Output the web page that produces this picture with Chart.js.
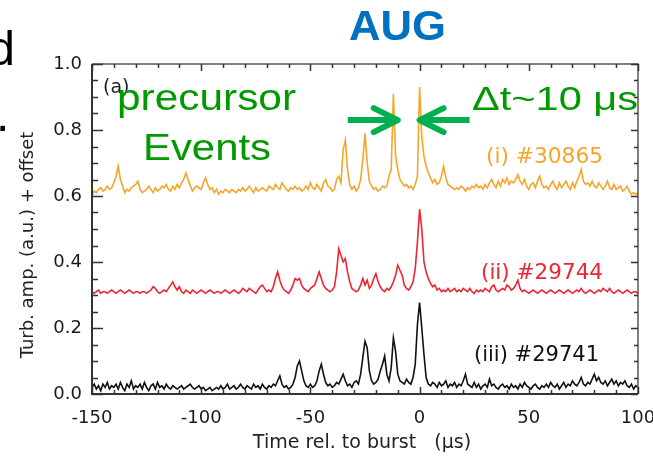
<!DOCTYPE html>
<html>
<head>
<meta charset="utf-8">
<title>AUG precursor events</title>
<script src="https://cdn.jsdelivr.net/npm/chart.js@4.4.0/dist/chart.umd.min.js"></script>
<style>
  html, body { margin: 0; padding: 0; background: #fff; }
  #wrap { width: 653px; height: 457px; position: relative; }
</style>
</head>
<body>
<div id="wrap"><canvas id="burstChart"></canvas></div>
<script>
// Time axis, 1 µs sampling relative to the burst
const times = [];
for (let t = -150; t <= 100; t++) times.push(t);

// (i) #30865 turbulence amplitude (offset by +0.6)
const shot30865 = [
  0.600,0.615,0.610,0.620,0.625,0.615,0.620,0.630,0.620,0.625, // -150
  0.640,0.660,0.690,0.650,0.630,0.610,0.620,0.615,0.625,0.630, // -140
  0.635,0.645,0.620,0.610,0.615,0.620,0.630,0.620,0.610,0.625, // -130
  0.615,0.620,0.630,0.625,0.635,0.620,0.615,0.630,0.620,0.635, // -120
  0.625,0.640,0.650,0.670,0.650,0.630,0.615,0.625,0.630,0.625, // -110
  0.620,0.640,0.655,0.635,0.620,0.625,0.610,0.620,0.605,0.615, // -100
  0.610,0.620,0.615,0.610,0.620,0.615,0.610,0.620,0.615,0.625, // -90
  0.615,0.620,0.630,0.620,0.610,0.625,0.615,0.620,0.625,0.620, // -80
  0.615,0.630,0.625,0.620,0.635,0.625,0.620,0.640,0.630,0.620, // -70
  0.615,0.625,0.620,0.630,0.620,0.625,0.615,0.620,0.630,0.620, // -60
  0.640,0.625,0.620,0.635,0.625,0.615,0.640,0.650,0.630,0.625, // -50
  0.615,0.620,0.650,0.660,0.640,0.740,0.770,0.680,0.635,0.620, // -40
  0.630,0.615,0.625,0.650,0.710,0.790,0.700,0.645,0.630,0.620, // -30
  0.625,0.615,0.620,0.630,0.625,0.630,0.660,0.680,0.910,0.720, // -20
  0.680,0.650,0.640,0.630,0.635,0.625,0.630,0.620,0.635,0.660, // -10
  0.930,0.780,0.720,0.690,0.670,0.655,0.640,0.650,0.635,0.640, // 0
  0.660,0.690,0.655,0.635,0.630,0.625,0.620,0.625,0.620,0.630, // 10
  0.625,0.615,0.625,0.620,0.630,0.625,0.635,0.625,0.630,0.620, // 20
  0.635,0.625,0.640,0.650,0.635,0.625,0.645,0.630,0.650,0.640, // 30
  0.655,0.635,0.645,0.640,0.650,0.665,0.645,0.635,0.650,0.630, // 40
  0.620,0.635,0.640,0.625,0.645,0.660,0.635,0.625,0.630,0.620, // 50
  0.635,0.645,0.630,0.620,0.640,0.625,0.635,0.645,0.630,0.620, // 60
  0.640,0.625,0.645,0.660,0.680,0.645,0.635,0.640,0.630,0.645, // 70
  0.630,0.625,0.640,0.630,0.620,0.630,0.645,0.625,0.620,0.635, // 80
  0.620,0.625,0.630,0.615,0.620,0.630,0.615,0.605,0.610,0.605, // 90
  0.610                                                        // 100
];

// (ii) #29744 (offset by +0.3)
const shot29744 = [
  0.310,0.305,0.310,0.315,0.305,0.310,0.310,0.305,0.310,0.315, // -150
  0.310,0.305,0.310,0.315,0.310,0.305,0.310,0.315,0.310,0.305, // -140
  0.310,0.310,0.305,0.310,0.310,0.305,0.310,0.315,0.325,0.320, // -130
  0.310,0.305,0.310,0.315,0.310,0.320,0.330,0.340,0.325,0.315, // -120
  0.325,0.310,0.305,0.315,0.310,0.305,0.315,0.310,0.305,0.310, // -110
  0.315,0.310,0.305,0.310,0.315,0.310,0.305,0.310,0.310,0.305, // -100
  0.310,0.315,0.310,0.305,0.310,0.315,0.310,0.305,0.310,0.320, // -90
  0.315,0.310,0.320,0.315,0.310,0.305,0.315,0.325,0.330,0.320, // -80
  0.310,0.315,0.310,0.325,0.350,0.370,0.345,0.325,0.315,0.310, // -70
  0.305,0.315,0.330,0.350,0.345,0.350,0.330,0.320,0.315,0.310, // -60
  0.320,0.325,0.330,0.350,0.370,0.350,0.330,0.320,0.315,0.310, // -50
  0.315,0.325,0.370,0.440,0.420,0.400,0.410,0.370,0.340,0.320, // -40
  0.315,0.310,0.315,0.330,0.350,0.330,0.345,0.320,0.330,0.350, // -30
  0.365,0.340,0.325,0.315,0.310,0.320,0.315,0.325,0.340,0.360, // -20
  0.390,0.375,0.360,0.330,0.320,0.315,0.325,0.340,0.380,0.460, // -10
  0.560,0.500,0.400,0.370,0.350,0.335,0.325,0.330,0.315,0.320, // 0
  0.310,0.315,0.310,0.320,0.310,0.315,0.320,0.310,0.315,0.310, // 10
  0.320,0.315,0.310,0.320,0.310,0.305,0.315,0.310,0.315,0.310, // 20
  0.320,0.315,0.310,0.325,0.330,0.315,0.310,0.315,0.320,0.315, // 30
  0.330,0.325,0.315,0.320,0.330,0.345,0.320,0.310,0.315,0.310, // 40
  0.305,0.310,0.315,0.310,0.305,0.310,0.315,0.310,0.305,0.310, // 50
  0.315,0.310,0.305,0.310,0.315,0.310,0.305,0.310,0.315,0.310, // 60
  0.305,0.310,0.315,0.310,0.320,0.310,0.305,0.310,0.315,0.310, // 70
  0.305,0.310,0.315,0.310,0.320,0.315,0.310,0.320,0.310,0.305, // 80
  0.310,0.315,0.310,0.305,0.310,0.315,0.310,0.305,0.310,0.310, // 90
  0.305                                                        // 100
];

// (iii) #29741 (no offset)
const shot29741 = [
  0.020,0.030,0.015,0.025,0.010,0.030,0.020,0.035,0.015,0.025, // -150
  0.020,0.030,0.015,0.035,0.020,0.010,0.030,0.020,0.040,0.015, // -140
  0.025,0.020,0.030,0.015,0.035,0.020,0.010,0.025,0.030,0.015, // -130
  0.035,0.020,0.025,0.015,0.030,0.020,0.015,0.025,0.020,0.015, // -120
  0.020,0.025,0.015,0.020,0.025,0.030,0.020,0.015,0.020,0.025, // -110
  0.015,0.020,0.010,0.015,0.020,0.010,0.015,0.020,0.015,0.025, // -100
  0.015,0.020,0.030,0.015,0.020,0.025,0.015,0.020,0.030,0.020, // -90
  0.015,0.025,0.020,0.015,0.030,0.020,0.025,0.015,0.030,0.020, // -80
  0.015,0.025,0.020,0.030,0.025,0.040,0.055,0.030,0.020,0.025, // -70
  0.015,0.020,0.030,0.050,0.085,0.100,0.070,0.040,0.025,0.020, // -60
  0.030,0.020,0.025,0.040,0.070,0.090,0.060,0.035,0.025,0.030, // -50
  0.020,0.025,0.035,0.030,0.045,0.060,0.040,0.025,0.030,0.020, // -40
  0.035,0.040,0.030,0.060,0.110,0.160,0.140,0.070,0.040,0.030, // -30
  0.035,0.045,0.070,0.090,0.115,0.060,0.040,0.080,0.170,0.130, // -20
  0.060,0.040,0.035,0.030,0.045,0.035,0.030,0.050,0.090,0.210, // -10
  0.277,0.200,0.120,0.050,0.030,0.025,0.035,0.030,0.020,0.035, // 0
  0.025,0.030,0.040,0.020,0.030,0.025,0.035,0.020,0.030,0.025, // 10
  0.040,0.060,0.030,0.025,0.020,0.035,0.020,0.030,0.015,0.025, // 20
  0.030,0.020,0.045,0.025,0.030,0.020,0.015,0.025,0.030,0.020, // 30
  0.025,0.015,0.030,0.020,0.025,0.015,0.030,0.020,0.035,0.025, // 40
  0.020,0.015,0.025,0.030,0.020,0.015,0.025,0.020,0.030,0.020, // 50
  0.035,0.025,0.020,0.030,0.015,0.025,0.035,0.020,0.030,0.025, // 60
  0.040,0.030,0.025,0.035,0.050,0.030,0.025,0.035,0.030,0.045, // 70
  0.060,0.040,0.050,0.035,0.030,0.040,0.025,0.035,0.045,0.030, // 80
  0.040,0.025,0.035,0.030,0.040,0.025,0.020,0.030,0.015,0.025, // 90
  0.020                                                        // 100
];

const shotLabels = ['(i) #30865', '(ii) #29744', '(iii) #29741'];
const shotColors = ['#F7A52A', '#EE2530', '#111111'];

const xTicks = [-150, -100, -50, 0, 50, 100];
const yTicks = [0.0, 0.2, 0.4, 0.6, 0.8, 1.0];

const tickFont = { family: 'DejaVu Sans', size: 18 };
const GREEN = '#009A00';
const ARROW_GREEN = '#00B050';

function toPoints(values) {
  return values.map((v, i) => ({ x: times[i], y: v }));
}

// draw text squeezed or stretched to a given width
function fitText(ctx, text, x, y, w, font, color) {
  ctx.save();
  ctx.font = font;
  const m = ctx.measureText(text).width;
  ctx.translate(x, y);
  ctx.scale(w / m, 1);
  ctx.fillStyle = color;
  ctx.textAlign = 'left';
  ctx.textBaseline = 'alphabetic';
  ctx.fillText(text, 0, 0);
  ctx.restore();
}

function arrow(ctx, tipX, y, dir) {
  // dir = +1 points right, -1 points left
  ctx.save();
  ctx.strokeStyle = ARROW_GREEN;
  ctx.lineWidth = 6;
  ctx.lineCap = 'butt';
  ctx.beginPath();
  ctx.moveTo(tipX - dir * 50, y);
  ctx.lineTo(tipX - dir * 3, y);
  ctx.stroke();
  ctx.lineCap = 'round';
  ctx.lineJoin = 'round';
  ctx.beginPath();
  ctx.moveTo(tipX - dir * 24, y - 12);
  ctx.lineTo(tipX, y);
  ctx.lineTo(tipX - dir * 24, y + 12);
  ctx.stroke();
  ctx.restore();
}

// frame, inward ticks and all the slide annotations
const annotations = {
  id: 'annotations',
  afterDraw(chart) {
    const ctx = chart.ctx;
    const xs = chart.scales.x, ys = chart.scales.y;
    const { left, right, top, bottom } = chart.chartArea;

    ctx.save();
    // frame
    ctx.strokeStyle = '#555';
    ctx.lineWidth = 1.5;
    ctx.beginPath();
    ctx.moveTo(left, top); ctx.lineTo(right, top); ctx.lineTo(right, bottom);
    ctx.stroke();
    ctx.strokeStyle = '#333';
    ctx.lineWidth = 2;
    ctx.beginPath();
    ctx.moveTo(left, top); ctx.lineTo(left, bottom); ctx.lineTo(right, bottom);
    ctx.stroke();

    // y ticks every 0.05, major every 0.2
    ctx.lineWidth = 1.5;
    ctx.strokeStyle = '#333';
    for (let k = 0; k <= 20; k++) {
      const py = Math.round(ys.getPixelForValue(k * 0.05)) + 0.5;
      const major = k % 4 === 0;
      ctx.beginPath();
      ctx.moveTo(left, py); ctx.lineTo(left + (major ? 11 : 6), py);
      ctx.moveTo(right, py); ctx.lineTo(right - (major ? 7 : 4), py);
      ctx.stroke();
    }
    // x ticks every 10 µs, major every 50
    for (let t = -150; t <= 100; t += 10) {
      const px = Math.round(xs.getPixelForValue(t)) + 0.5;
      const major = t % 50 === 0;
      ctx.beginPath();
      ctx.moveTo(px, bottom); ctx.lineTo(px, bottom - (major ? 7 : 4));
      ctx.moveTo(px, top); ctx.lineTo(px, top + (major ? 7 : 4));
      ctx.stroke();
    }

    // axis titles
    ctx.fillStyle = '#222';
    ctx.font = '19px "DejaVu Sans"';
    ctx.textAlign = 'center';
    ctx.textBaseline = 'alphabetic';
    ctx.fillText('Time rel. to burst   (\u00b5s)', 362, 448);
    ctx.save();
    ctx.translate(33, 245);
    ctx.rotate(-Math.PI / 2);
    ctx.font = '18px "DejaVu Sans"';
    ctx.fillText('Turb. amp. (a.u.) + offset', 0, 0);
    ctx.restore();

    // panel tag and shot labels
    ctx.font = '19px "DejaVu Sans"';
    ctx.textAlign = 'left';
    ctx.fillStyle = '#222';
    ctx.fillText('(a)', 103, 93);
    fitText(ctx, shotLabels[0], 486, 163, 117, '22px "DejaVu Sans"', shotColors[0]);
    fitText(ctx, shotLabels[1], 481, 279, 122, '22px "DejaVu Sans"', shotColors[1]);
    fitText(ctx, shotLabels[2], 474, 361, 125, '22px "DejaVu Sans"', shotColors[2]);

    // green slide annotations
    fitText(ctx, 'precursor', 117, 110, 179, '36px "Liberation Sans"', GREEN);
    fitText(ctx, 'Events', 143, 160, 128, '36px "Liberation Sans"', GREEN);
    fitText(ctx, '\u0394t~10 \u03bcs', 472, 110, 166, '33px "Liberation Sans"', GREEN);
    const ay = ys.getPixelForValue(0.83);
    arrow(ctx, xs.getPixelForValue(-10), ay, 1);
    arrow(ctx, xs.getPixelForValue(0), ay, -1);

    // slide title and clipped text at the left edge
    fitText(ctx, 'AUG', 349, 40, 97, 'bold 42px "Liberation Sans"', '#0070C0');
    ctx.font = '48px "Liberation Sans"';
    ctx.fillStyle = '#000';
    ctx.textAlign = 'right';
    ctx.fillText('d', 15, 65);
    ctx.textAlign = 'left';
    ctx.fillText('.', -4, 131);
    ctx.restore();
  }
};

const ctx = document.getElementById('burstChart').getContext('2d');
const chart = new Chart(ctx, {
  type: 'line',
  data: {
    datasets: [shot30865, shot29744, shot29741].map((vals, i) => ({
      label: shotLabels[i],
      data: toPoints(vals),
      borderColor: shotColors[i],
      borderWidth: 1.6,
      pointRadius: 0,
      tension: 0,
      fill: false
    }))
  },
  options: {
    responsive: true,
    maintainAspectRatio: false,
    animation: false,
    devicePixelRatio: 1,
    layout: { padding: { top: 64, right: 15, bottom: 0, left: 0 } },
    plugins: {
      legend: { display: false },
      tooltip: { enabled: false }
    },
    scales: {
      x: {
        type: 'linear',
        min: -150,
        max: 100,
        grid: { display: false, drawTicks: false },
        border: { display: false },
        afterBuildTicks(scale) { scale.ticks = xTicks.map(v => ({ value: v })); },
        ticks: { font: tickFont, color: '#1a1a1a', padding: 14, maxRotation: 0, autoSkip: false },
        afterFit(scale) { scale.height = 63; scale.paddingLeft = 0; scale.paddingRight = 0; }
      },
      y: {
        min: 0,
        max: 1,
        grid: { display: false, drawTicks: false },
        border: { display: false },
        afterBuildTicks(scale) { scale.ticks = yTicks.map(v => ({ value: v })); },
        ticks: { font: tickFont, color: '#1a1a1a', padding: 10, callback: v => v.toFixed(1) },
        afterFit(scale) { scale.width = 92; scale.paddingTop = 0; scale.paddingBottom = 0; }
      }
    }
  },
  plugins: [annotations]
});
</script>
</body>
</html>
